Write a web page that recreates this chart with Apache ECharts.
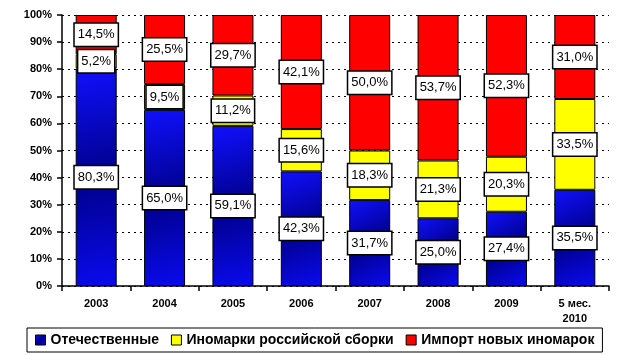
<!DOCTYPE html>
<html><head><meta charset="utf-8">
<script src="https://cdn.jsdelivr.net/npm/echarts@6/dist/echarts.min.js"></script>
<style>html,body{margin:0;padding:0;background:#fff}#c{width:628px;height:355px}</style>
</head><body><div id="c"></div>
<script>
var categories = ['2003','2004','2005','2006','2007','2008','2009','5 мес.\n2010'];
var domestic = [80.3, 65.0, 59.1, 42.3, 31.7, 25.0, 27.4, 35.5];
var foreignAssembled = [5.2, 9.5, 11.2, 15.6, 18.3, 21.3, 20.3, 33.5];
var imported = [14.5, 25.5, 29.7, 42.1, 50.0, 53.7, 52.3, 31.0];
var seriesNames = ['Отечественные', 'Иномарки российской сборки', 'Импорт новых иномарок'];
var yTicks = [0,10,20,30,40,50,60,70,80,90,100];

var blueGrad = new echarts.graphic.LinearGradient(0,0,1,1,[
  {offset:0,color:'#1010ff'},{offset:0.5,color:'#00008a'},{offset:1,color:'#0a0af0'}]);
var font = 'Arial, "Liberation Sans", sans-serif';
var labelCfg = {
  show:true, position:'inside', color:'#000', fontFamily:font, fontSize:13,
  backgroundColor:'#fff', borderColor:'#000', borderWidth:1.5, padding:[5,3,4,3],
  formatter:function(p){return p.value.toFixed(1).replace('.',',')+'%';}
};
function mk(name, data, color){
  return {name:name, type:'bar', stack:'s', data:data, barWidth:41,
    itemStyle:{color:color, borderColor:'#000', borderWidth:1},
    label:labelCfg, emphasis:{disabled:true}};
}
var chart = echarts.init(document.getElementById('c'));
chart.setOption({
  animation:false,
  grid:{left:62, right:19, top:15, bottom:69, containLabel:false},
  xAxis:{type:'category', data:categories,
    axisLine:{lineStyle:{color:'#000', width:1.5}},
    axisTick:{show:true, length:5, lineStyle:{color:'#000', width:1.5}},
    axisLabel:{color:'#000', fontWeight:'bold', fontFamily:font, fontSize:11, margin:10, lineHeight:15}},
  yAxis:{type:'value', min:0, max:100, interval:10,
    axisLine:{show:true, lineStyle:{color:'#000', width:1.5}},
    axisTick:{show:true, length:5, lineStyle:{color:'#000', width:1.5}},
    axisLabel:{color:'#000', fontWeight:'bold', fontFamily:font, fontSize:11, margin:10,
      formatter:function(v){return yTicks.indexOf(v)>=0 ? v+'%' : '';}},
    splitLine:{show:true, lineStyle:{color:'#000', type:[2,4], width:1}}},
  legend:{bottom:3, left:27, data:seriesNames, icon:'rect', itemWidth:10, itemHeight:10, itemGap:12,
    borderColor:'#000', borderWidth:1, padding:[5,8,5,8],
    textStyle:{color:'#000', fontWeight:'bold', fontFamily:font, fontSize:14},
    itemStyle:{borderColor:'#000', borderWidth:1}},
  series:[
    mk(seriesNames[0], domestic, blueGrad),
    mk(seriesNames[1], foreignAssembled, '#ffff00'),
    mk(seriesNames[2], imported, '#ff0000')
  ]
});
</script></body></html>
